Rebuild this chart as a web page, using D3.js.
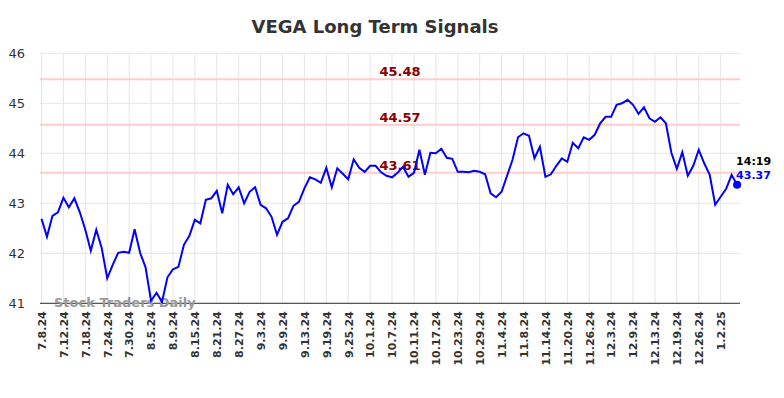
<!doctype html>
<html lang="en">
  <head>
    <meta charset="utf-8">
    <title>VEGA Long Term Signals</title>
    <script src="https://d3js.org/d3.v7.min.js"></script>
    <style>
      body { margin: 0; background: #fff; font-family: 'DejaVu Sans', sans-serif; }
      .grid line { stroke: #e6e6e6; }
    </style>
  </head>
  <body>
    <div id="root"></div>
  </body>
  <script>

    //data:
    const dates = [
      '7.8.24','7.9.24','7.10.24','7.11.24','7.12.24','7.15.24','7.16.24','7.17.24','7.18.24','7.19.24',
      '7.22.24','7.23.24','7.24.24','7.25.24','7.26.24','7.29.24','7.30.24','7.31.24',
      '8.1.24','8.2.24','8.5.24','8.6.24','8.7.24','8.8.24','8.9.24','8.12.24','8.13.24','8.14.24',
      '8.15.24','8.16.24','8.19.24','8.20.24','8.21.24','8.22.24','8.23.24','8.26.24','8.27.24',
      '8.28.24','8.29.24','8.30.24',
      '9.3.24','9.4.24','9.5.24','9.6.24','9.9.24','9.10.24','9.11.24','9.12.24','9.13.24','9.16.24',
      '9.17.24','9.18.24','9.19.24','9.20.24','9.23.24','9.24.24','9.25.24','9.26.24','9.27.24','9.30.24',
      '10.1.24','10.2.24','10.3.24','10.4.24','10.7.24','10.8.24','10.9.24','10.10.24','10.11.24',
      '10.14.24','10.15.24','10.16.24','10.17.24','10.18.24','10.21.24','10.22.24','10.23.24',
      '10.24.24','10.25.24','10.28.24','10.29.24','10.30.24','10.31.24',
      '11.1.24','11.4.24','11.5.24','11.6.24','11.7.24','11.8.24','11.11.24','11.12.24','11.13.24',
      '11.14.24','11.15.24','11.18.24','11.19.24','11.20.24','11.21.24','11.22.24','11.25.24',
      '11.26.24','11.27.24','11.29.24',
      '12.2.24','12.3.24','12.4.24','12.5.24','12.6.24','12.9.24','12.10.24','12.11.24','12.12.24',
      '12.13.24','12.16.24','12.17.24','12.18.24','12.19.24','12.20.24','12.23.24','12.24.24',
      '12.26.24','12.27.24','12.30.24','12.31.24',
      '1.2.25','1.3.25','1.6.25','1.7.25'
    ];
    const prices = [
      42.69, 42.33, 42.75, 42.82, 43.11, 42.92, 43.10, 42.82, 42.47, 42.05,
      42.47, 42.10, 41.50, 41.77, 42.01, 42.03, 42.01, 42.48, 42.01, 41.72,
      41.05, 41.21, 41.03, 41.52, 41.68, 41.73, 42.17, 42.35, 42.67, 42.60,
      43.07, 43.10, 43.25, 42.80, 43.37, 43.18, 43.32, 43.00, 43.23, 43.32,
      42.97, 42.90, 42.73, 42.37, 42.63, 42.70, 42.95, 43.03, 43.30, 43.52,
      43.48, 43.41, 43.71, 43.32, 43.70, 43.59, 43.48, 43.88, 43.71, 43.63,
      43.75, 43.75, 43.62, 43.55, 43.52, 43.61, 43.73, 43.53, 43.61, 44.07,
      43.57, 44.01, 44.00, 44.09, 43.91, 43.89, 43.63, 43.63, 43.62, 43.65,
      43.63, 43.58, 43.20, 43.12, 43.23, 43.55, 43.87, 44.32, 44.40, 44.35,
      43.90, 44.13, 43.53, 43.58, 43.75, 43.90, 43.83, 44.21, 44.10, 44.32,
      44.27, 44.37, 44.60, 44.73, 44.73, 44.97, 45.00, 45.07, 44.97, 44.79,
      44.92, 44.70, 44.63, 44.72, 44.60, 44.01, 43.69, 44.02, 43.55, 43.75,
      44.07, 43.80, 43.57, 42.97, 43.13, 43.29, 43.57, 43.37
    ];
    const levels = [45.48, 44.57, 43.61];
    const yTicks = [41, 42, 43, 44, 45, 46];
    const xTickLabels = dates.filter((d, i) => i % 4 === 0);
    const lastTime = '14:19';

    //constants:
    const width = 784;
    const height = 398;
    const plotLeft = 40, plotRight = 740, plotTop = 53.3, plotBottom = 303.3;

    //scales:
    const xScale = d3.scalePoint()
      .domain(dates)
      .range([41.5, 737.1]);

    const yScale = d3.scaleLinear()
      .domain([41, 46])
      .range([plotBottom, plotTop]);

    const svg = d3.select('#root')
      .append('svg')
      .attr('width', width)
      .attr('height', height);

    //grid:
    svg.append('g')
      .attr('class', 'grid')
      .selectAll('line')
      .data(yTicks)
      .enter()
      .append('line')
      .attr('x1', plotLeft).attr('x2', plotRight)
      .attr('y1', d => yScale(d)).attr('y2', d => yScale(d));

    svg.append('g')
      .attr('class', 'grid')
      .selectAll('line')
      .data(xTickLabels)
      .enter()
      .append('line')
      .attr('x1', d => xScale(d)).attr('x2', d => xScale(d))
      .attr('y1', plotTop).attr('y2', plotBottom);

    //signal levels:
    svg.selectAll('line.level')
      .data(levels)
      .enter()
      .append('line')
      .attr('class', 'level')
      .attr('x1', plotLeft).attr('x2', plotRight)
      .attr('y1', d => yScale(d)).attr('y2', d => yScale(d))
      .attr('stroke', '#ffcccc')
      .attr('stroke-width', 2);

    svg.selectAll('text.level')
      .data(levels)
      .enter()
      .append('text')
      .attr('class', 'level')
      .attr('x', 400)
      .attr('y', d => yScale(d) - 3)
      .attr('text-anchor', 'middle')
      .attr('fill', '#8b0000')
      .attr('font-size', 13)
      .attr('font-weight', 'bold')
      .text(d => d.toFixed(2));

    //axes:
    const yAxis = d3.axisLeft(yScale)
      .tickValues(yTicks)
      .tickFormat(d3.format('d'))
      .tickSize(0)
      .tickPadding(15);
    svg.append('g')
      .attr('transform', `translate(${plotLeft}, 0)`)
      .call(yAxis)
      .call(g => g.select('.domain').remove())
      .selectAll('text')
      .attr('font-size', 13)
      .attr('font-family', 'DejaVu Sans, sans-serif')
      .attr('fill', '#333');

    const xAxis = d3.axisBottom(xScale).tickValues(xTickLabels).tickSize(0).tickPadding(0);
    svg.append('g')
      .attr('transform', `translate(0, ${plotBottom})`)
      .call(xAxis)
      .call(g => g.select('.domain').remove())
      .selectAll('text')
      .attr('font-size', 11)
      .attr('font-weight', 'bold')
      .attr('font-family', 'DejaVu Sans, sans-serif')
      .attr('fill', '#333')
      .attr('text-anchor', 'end')
      .attr('y', 0)
      .attr('dy', '0.35em')
      .attr('transform', 'translate(0, 8) rotate(-90)');

    svg.append('line')
      .attr('x1', plotLeft).attr('x2', plotRight)
      .attr('y1', plotBottom).attr('y2', plotBottom)
      .attr('stroke', '#555')
      .attr('stroke-width', 1.2);

    //watermark:
    svg.append('text')
      .attr('x', 54)
      .attr('y', 307)
      .attr('fill', '#999')
      .attr('font-size', 13)
      .attr('font-weight', 'bold')
      .text('Stock Traders Daily');

    //price line:
    const line = d3.line()
      .x((d, i) => xScale(dates[i]))
      .y(d => yScale(d));

    svg.append('path')
      .datum(prices)
      .attr('d', line)
      .attr('fill', 'none')
      .attr('stroke', '#0000ff')
      .attr('stroke-width', 2);

    const lastIdx = prices.length - 1;
    const lx = xScale(dates[lastIdx]);
    const ly = yScale(prices[lastIdx]);

    svg.append('circle')
      .attr('cx', lx).attr('cy', ly)
      .attr('r', 4)
      .attr('fill', '#0000ff');

    svg.append('text')
      .attr('x', lx - 1).attr('y', ly - 20)
      .attr('font-size', 11).attr('font-weight', 'bold')
      .attr('fill', '#000')
      .text(lastTime);

    svg.append('text')
      .attr('x', lx - 1).attr('y', ly - 6)
      .attr('font-size', 11).attr('font-weight', 'bold')
      .attr('fill', '#0000ff')
      .text(prices[lastIdx].toFixed(2));

    //title:
    svg.append('text')
      .attr('x', 375)
      .attr('y', 33)
      .attr('text-anchor', 'middle')
      .attr('font-size', 18)
      .attr('font-weight', 'bold')
      .attr('fill', '#333')
      .text('VEGA Long Term Signals');

  </script>
</html>
